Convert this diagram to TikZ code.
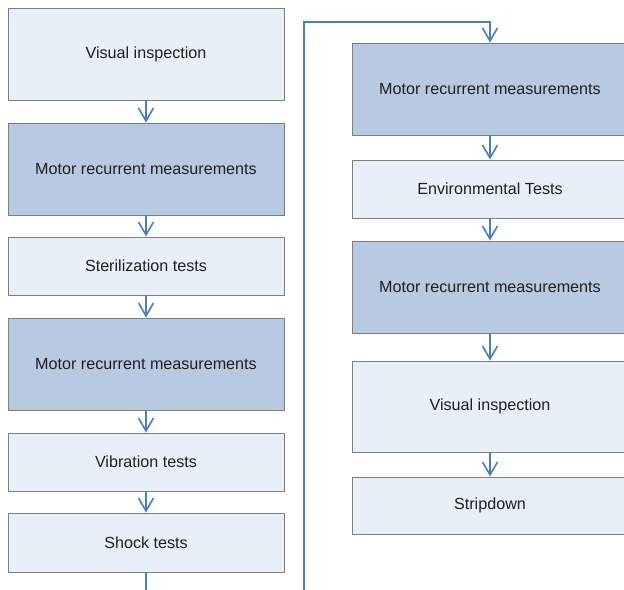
\documentclass[tikz,border=0pt]{standalone}
\usepackage{fontspec}
\setmainfont{Liberation Sans}
\usetikzlibrary{arrows.meta}
\definecolor{lightbox}{HTML}{E9EFF8}
\definecolor{darkbox}{HTML}{B8C9E2}
\definecolor{boxline}{HTML}{7F7F7F}
\definecolor{flow}{HTML}{4A7EBF}
\tikzset{
  stepbox/.style={draw=boxline, line width=0.9bp, minimum width=276bp, inner sep=0pt,
    font=\fontsize{16.2}{19}\selectfont, text=black!88},
  lightstep/.style={stepbox, fill=lightbox},
  darkstep/.style={stepbox, fill=darkbox},
  flowarrow/.style={draw=flow, line width=1.6bp, -{Straight Barb[length=13bp,width=15bp,line width=1.6bp]}},
  flowline/.style={draw=flow, line width=1.6bp}
}
\begin{document}
\begin{tikzpicture}[x=1bp,y=-1bp]
\useasboundingbox (0,0) rectangle (624,590);
% left column
\node[lightstep, minimum height=92bp] (v1) at (146,54) {Visual inspection};
\node[darkstep, minimum height=92bp] (m1) at (146,169) {Motor recurrent measurements};
\node[lightstep, minimum height=58bp] (st) at (146,266) {Sterilization tests};
\node[darkstep, minimum height=92bp] (m2) at (146,364) {Motor recurrent measurements};
\node[lightstep, minimum height=58bp] (vib) at (146,462) {Vibration tests};
\node[lightstep, minimum height=59bp] (sh) at (146,542.5) {Shock tests};
% right column
\node[darkstep, minimum height=92bp] (m3) at (490,89) {Motor recurrent measurements};
\node[lightstep, minimum height=58bp] (env) at (490,189) {Environmental Tests};
\node[darkstep, minimum height=92bp] (m4) at (490,287) {Motor recurrent measurements};
\node[lightstep, minimum height=91bp] (v2) at (490,406.5) {Visual inspection};
\node[lightstep, minimum height=57bp] (sd) at (490,505.5) {Stripdown};
% arrows
\draw[flowarrow] (v1) -- (m1);
\draw[flowarrow] (m1) -- (st);
\draw[flowarrow] (st) -- (m2);
\draw[flowarrow] (m2) -- (vib);
\draw[flowarrow] (vib) -- (sh);
\draw[flowarrow] (m3) -- (env);
\draw[flowarrow] (env) -- (m4);
\draw[flowarrow] (m4) -- (v2);
\draw[flowarrow] (v2) -- (sd);
% loop connector
\coordinate (c1) at (146,605);
\coordinate (c2) at (304,605);
\coordinate (c3) at (304,22);
\coordinate (c4) at (490,22);
\begin{scope}
\clip (0,0) rectangle (624,590);
\draw[flowarrow] (sh.south) -- (c1) -- (c2) -- (c3) -- (c4) -- (m3.north);
\end{scope}
\end{tikzpicture}
\end{document}
